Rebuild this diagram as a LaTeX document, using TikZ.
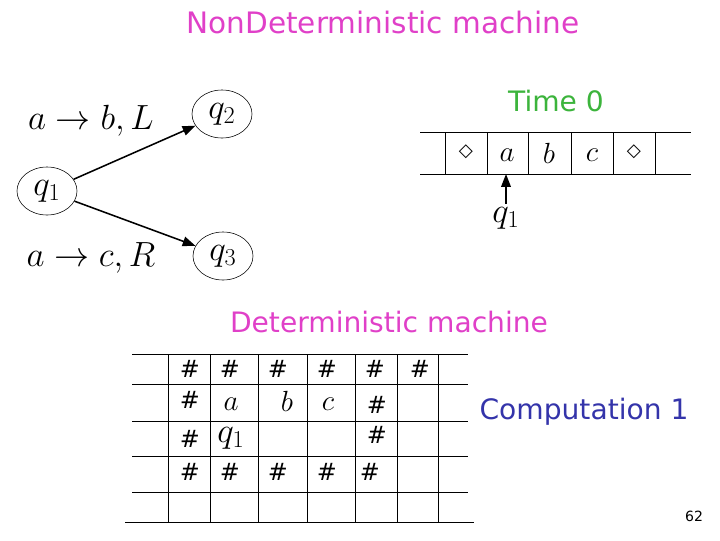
\documentclass[tikz,border=0pt]{standalone}
\usepackage{amsmath,amssymb}
\usepackage{fontspec}
\setmainfont{DejaVu Sans}
\usetikzlibrary{arrows.meta,positioning,shapes.geometric}
\definecolor{titlepink}{HTML}{E040C8}
\definecolor{timegreen}{HTML}{3CB43C}
\definecolor{compblue}{HTML}{3434AA}
\begin{document}
\begin{tikzpicture}[x=0.025cm,y=-0.025cm,every node/.style={inner sep=0pt},
  st/.style={ellipse,draw,minimum width=1.5cm,minimum height=1.2cm,font=\fontsize{25}{30}\selectfont},
  lab/.style={font=\fontsize{24}{29}\selectfont},
  arr/.style={-{Triangle[length=3.2mm,width=2.4mm]},line width=1.1pt},
  sym/.style={font=\fontsize{20}{24}\selectfont},
  blank/.style={font=\fontsize{13}{16}\selectfont},
  hs/.style={font=\fontsize{17}{20}\selectfont},
  head/.style={font=\fontsize{20}{25}\selectfont}]
  \useasboundingbox (0,0) rectangle (720,540);
  \node[head,text=titlepink,font=\fontsize{21}{26}\selectfont] (title) at (383,22) {NonDeterministic machine};
  \node[st] (q1) at (47,191) {$q_1$};
  \node[st] (q2) at (222,114) {$q_2$};
  \node[st] (q3) at (223,256) {$q_3$};
  \node[lab] (tb) at (91,121) {$a\rightarrow b,L$};
  \node[lab] (tc) at (91,258) {$a\rightarrow c,R$};
  \draw[arr] (q1) -- (q2);
  \draw[arr] (q1) -- (q3);
  \node[head,text=timegreen] (time) at (556,101) {Time 0};
  \draw (420,132) -- (691,132) (420,174) -- (691,174);
  \foreach \x in {445,487,528,571,613,655} \draw (\x,132) -- (\x,174);
  \node[blank] (c1) at (466,152) {◇};
  \node[sym] (c2) at (507,155) {$a$};
  \node[sym] (c3) at (549,153) {$b$};
  \node[sym] (c4) at (592,155) {$c$};
  \node[blank] (c5) at (634,152) {◇};
  \node[lab] (hq) at (506,218) {$q_1$};
  \coordinate (hd) at (506,174);
  \draw[arr,line width=1pt] ([yshift=2pt]hq.north) -- (hd);
  \node[head,text=titlepink] (det) at (389,322) {Deterministic machine};
  \foreach \y in {354,384,421,456,492} \draw (132,\y) -- (468,\y);
  \draw (125,522) -- (474,522);
  \foreach \x in {168,210,258,307,355,397,438} \draw (\x,354) -- (\x,522);
  \foreach \x [count=\i] in {190,230,278,327,375,420} \node[hs] (ha\i) at (\x,369) {$\#$};
  \node[hs] (hb1) at (190,400) {$\#$};
  \node[sym] (ga) at (231,404) {$a$};
  \node[sym] (gb) at (287,401) {$b$};
  \node[sym] (gc) at (328,404) {$c$};
  \node[hs] (hb2) at (377,405) {$\#$};
  \node[hs] (hc1) at (190,439) {$\#$};
  \node[lab] (gq) at (231,438) {$q_1$};
  \node[hs] (hc2) at (377,435) {$\#$};
  \foreach \x [count=\i] in {190,230,278,327,370} \node[hs] (hd\i) at (\x,472) {$\#$};
  \node[head,text=compblue] (comp) at (584,412) {Computation 1};
  \node[font=\fontsize{10}{12}\selectfont] (pg) at (694,516) {62};
\end{tikzpicture}
\end{document}
